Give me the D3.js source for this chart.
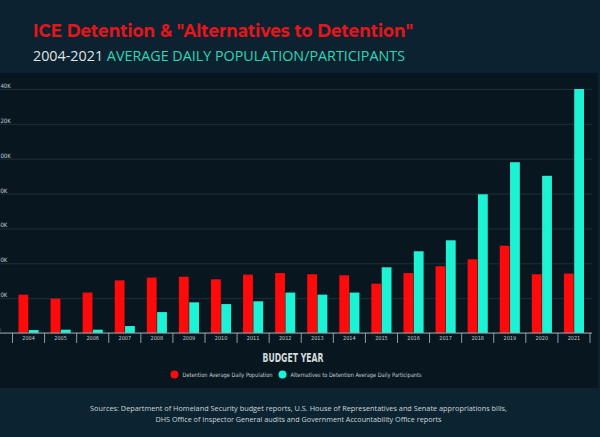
<!DOCTYPE html>
<html>
<head>
<meta charset="utf-8">
<script src="https://cdn.jsdelivr.net/npm/d3@7"></script>
<style>
	body { margin: 0; background: #0d2230; }
	svg { display: block; }
	.tick text { font-family: 'Liberation Sans Narrow', 'DejaVu Sans Condensed', sans-serif; fill: #c3ccd1; }
</style>
</head>
<body>
<div></div>
<script>
var years = ['2004', '2005', '2006', '2007', '2008', '2009', '2010', '2011', '2012',
	'2013', '2014', '2015', '2016', '2017', '2018', '2019', '2020', '2021'];
var detention = [22.0, 19.7, 23.2, 30.2, 31.8, 32.3, 30.8, 33.5, 34.4,
	33.7, 33.1, 28.3, 34.4, 38.3, 42.3, 50.1, 33.7, 34.1];
var alternatives = [1.7, 1.9, 1.9, 4.0, 12.0, 17.6, 16.6, 18.2, 23.2,
	22.0, 23.2, 37.7, 46.9, 53.2, 79.6, 98.0, 90.2, 140.0];
var y_ticks = [0, 20, 40, 60, 80, 100, 120, 140];
var series = ['Detention Average Daily Population', 'Alternatives to Detention Average Daily Participants'];

function draw_chart() {
	var width = 600;
	var height = 437;

	var svg = d3.select('div')
		.append('svg')
			.attr('width', width)
			.attr('height', height);

	// background bands
	svg.append('rect')
		.attr('x', 0).attr('y', 0)
		.attr('width', width).attr('height', height)
		.style('fill', '#0d2230');
	svg.append('rect')
		.attr('x', 0).attr('y', 73)
		.attr('width', 598).attr('height', 315)
		.style('fill', '#08171f');
	svg.append('rect')
		.attr('x', 0).attr('y', 388)
		.attr('width', width).attr('height', 49)
		.style('fill', '#0c2431');

	// title
	svg.append('text')
		.attr('x', 33)
		.attr('y', 37)
		.attr('textLength', 380)
		.attr('lengthAdjust', 'spacingAndGlyphs')
		.text('ICE Detention & "Alternatives to Detention"')
		.style('font-family', 'Montserrat, "Open Sans", sans-serif')
		.style('font-weight', 'bold')
		.style('font-size', '18px')
		.style('fill', '#e3161b');

	var sub = svg.append('text')
		.attr('x', 33)
		.attr('y', 60.5)
		.attr('textLength', 372)
		.attr('lengthAdjust', 'spacingAndGlyphs')
		.style('font-family', '"Open Sans", sans-serif')
		.style('font-size', '15px');
	sub.append('tspan').text('2004-2021 ').style('fill', '#dde3e6');
	sub.append('tspan').text('AVERAGE DAILY POPULATION/PARTICIPANTS').style('fill', '#2fd6b8');

	// scales
	var x = d3.scaleBand()
		.domain(years)
		.range([12.5, 590])
		.padding(0);

	var x1 = d3.scaleBand()
		.domain(series)
		.range([0, x.bandwidth()])
		.paddingInner(0.05)
		.paddingOuter(0.58);

	var y = d3.scaleLinear()
		.domain([0, 140])
		.range([333, 89]);

	var color = d3.scaleOrdinal()
		.domain(series)
		.range(['#ff0a0a', '#1ef2d4']);

	// y grid + labels (cropped at the left edge as in the original)
	var y_axis = svg.append('g')
		.attr('class', 'axis')
		.call(d3.axisRight(y)
			.tickValues(y_ticks)
			.tickSize(592)
			.tickFormat(d => d == 0 ? '0' : d + 'K'));
	y_axis.select('.domain').remove();
	y_axis.selectAll('.tick line')
		.style('stroke', '#1c2f38')
		.style('stroke-width', 1);
	y_axis.selectAll('.tick text')
		.attr('x', -3)
		.attr('dy', -1.5)
		.attr('text-anchor', 'start')
		.style('font-size', '6px');

	// bars
	var groups = svg.append('g')
		.selectAll('g')
		.data(years)
		.enter()
		.append('g')
			.attr('transform', d => 'translate(' + x(d) + ',0)');
	groups.selectAll('rect')
		.data((d, i) => [
			{key: series[0], value: detention[i]},
			{key: series[1], value: alternatives[i]}
		])
		.enter()
		.append('rect')
			.attr('x', d => x1(d.key))
			.attr('y', d => y(d.value))
			.attr('width', x1.bandwidth())
			.attr('height', d => y(0) - y(d.value))
			.style('fill', d => color(d.key));

	// x axis
	var x_axis = svg.append('g')
		.attr('transform', 'translate(0,' + y(0) + ')')
		.call(d3.axisBottom(x).tickSizeInner(10).tickSizeOuter(0));
	x_axis.select('.domain').remove();
	x_axis.selectAll('.tick line')
		.attr('x1', -x.bandwidth() / 2)
		.attr('x2', -x.bandwidth() / 2)
		.style('stroke', '#8f9ca3');
	x_axis.selectAll('.tick text')
		.attr('y', 3)
		.attr('dy', '0.71em')
		.style('font-size', '5.5px');
	svg.append('line')
		.attr('x1', 590).attr('x2', 590)
		.attr('y1', y(0)).attr('y2', y(0) + 10)
		.style('stroke', '#8f9ca3');
	svg.append('line')
		.attr('x1', 0).attr('x2', 592)
		.attr('y1', y(0)).attr('y2', y(0))
		.style('stroke', '#9aa6ac')
		.style('stroke-width', 1.2);

	// x axis label
	svg.append('text')
		.attr('text-anchor', 'middle')
		.attr('x', 293)
		.attr('y', 361.5)
		.attr('textLength', 61)
		.attr('lengthAdjust', 'spacingAndGlyphs')
		.text('BUDGET YEAR')
		.style('font-family', '"Liberation Sans Narrow", "DejaVu Sans Condensed", sans-serif')
		.style('font-weight', 'bold')
		.style('font-size', '13px')
		.style('fill', '#d3dade');

	// legend
	var legend_x = [174.5, 282.5];
	var legend_w = [90, 131];
	svg.selectAll('legend_dot')
		.data(series)
		.enter()
		.append('circle')
			.attr('cx', (d, i) => legend_x[i])
			.attr('cy', 374.5)
			.attr('r', 4)
			.style('fill', d => color(d));
	svg.selectAll('legend_label')
		.data(series)
		.enter()
		.append('text')
			.attr('x', (d, i) => legend_x[i] + 8)
			.attr('y', 376.5)
			.attr('textLength', (d, i) => legend_w[i])
			.attr('lengthAdjust', 'spacingAndGlyphs')
			.text(d => d)
			.style('font-family', '"Liberation Sans Narrow", "DejaVu Sans Condensed", sans-serif')
			.style('font-size', '6px')
			.style('fill', '#c3ccd0');

	// sources
	var sources = [
		'Sources: Department of Homeland Security budget reports, U.S. House of Representatives and Senate appropriations bills,',
		'DHS Office of Inspector General audits and Government Accountability Office reports'
	];
	var source_w = [417, 286];
	svg.selectAll('source')
		.data(sources)
		.enter()
		.append('text')
			.attr('text-anchor', 'middle')
			.attr('x', 298.5)
			.attr('y', (d, i) => 410.5 + i * 11.6)
			.attr('textLength', (d, i) => source_w[i])
			.attr('lengthAdjust', 'spacingAndGlyphs')
			.text(d => d)
			.style('font-family', '"Open Sans", sans-serif')
			.style('font-size', '7.8px')
			.style('fill', '#cdd5d9');
}

draw_chart();
</script>
</body>
</html>
